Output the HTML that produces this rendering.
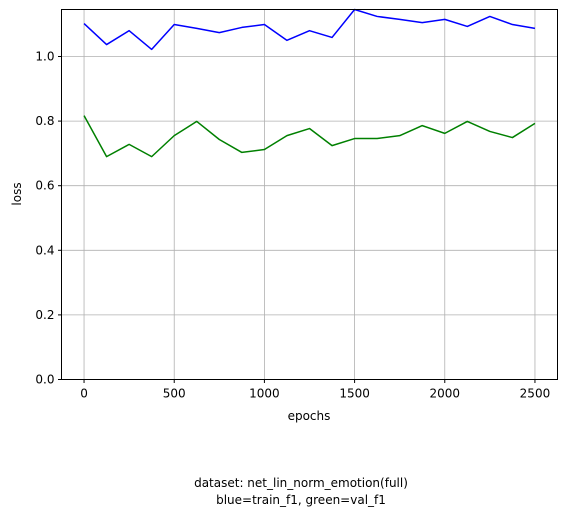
<!DOCTYPE html>
<html><head><meta charset="utf-8"><style>
body{margin:0;background:#fff;}
svg{display:block;font-family:"DejaVu Sans","Liberation Sans",sans-serif;}
</style></head><body>
<svg id="chart" width="567" height="517" viewBox="0 0 567 517">
<g id="grid"></g>
<g id="series"></g>
<rect x="61.5" y="9.5" width="496" height="370" fill="none" stroke="#000" stroke-width="1"/>
<g id="ticks"></g>
<text x="309" y="420" font-size="12" text-anchor="middle">epochs</text>
<text transform="translate(21,194) rotate(-90)" font-size="12" text-anchor="middle">loss</text>
<text x="301" y="487" font-size="12" text-anchor="middle">dataset: net_lin_norm_emotion(full)</text>
<text x="301" y="504" font-size="12" text-anchor="middle">blue=train_f1, green=val_f1</text>
</svg>
<script>
const epochs=[0,125,250,375,500,625,750,875,1000,1125,1250,1375,1500,1625,1750,1875,2000,2125,2250,2375,2500];
const trainF1=[1.102,1.037,1.080,1.022,1.099,1.087,1.074,1.090,1.099,1.050,1.080,1.059,1.150,1.124,1.115,1.105,1.115,1.093,1.124,1.099,1.087];
const valF1=[0.817,0.690,0.728,0.690,0.755,0.799,0.743,0.703,0.712,0.755,0.777,0.724,0.746,0.746,0.755,0.786,0.762,0.799,0.768,0.749,0.793];
const xTicks=[0,500,1000,1500,2000,2500];
const yTicks=[0.0,0.2,0.4,0.6,0.8,1.0];
const NS="http://www.w3.org/2000/svg";
const L=61.5,R=557.5,T=9.5,B=379.5;
const xMin=-125,xMax=2625,yMin=0,yMax=1.1455;
function sx(v){return L+(v-xMin)/(xMax-xMin)*(R-L);}
function sy(v){return B-(v-yMin)/(yMax-yMin)*(B-T);}
function mk(tag,attrs,parent){const e=document.createElementNS(NS,tag);for(const k in attrs)e.setAttribute(k,attrs[k]);parent.appendChild(e);return e;}
const grid=document.getElementById('grid'),ticks=document.getElementById('ticks'),series=document.getElementById('series');
xTicks.forEach(t=>{const x=sx(t);
 const g=mk('line',{x1:x,x2:x,y1:T,y2:B,stroke:'#b0b0b0','stroke-width':0.8},grid);
 
 
 const tk=mk('line',{x1:x,x2:x,y1:B,y2:B+3.5,stroke:'#000'},ticks);
 
 
 const tx=mk('text',{x:x,y:B+18,'font-size':12,'text-anchor':'middle'},ticks);tx.textContent=t;
 
 
});
yTicks.forEach(t=>{const y=sy(t);
 const g=mk('line',{x1:L,x2:R,y1:y,y2:y,stroke:'#b0b0b0','stroke-width':0.8},grid);
 
 
 const tk=mk('line',{x1:L-3.5,x2:L,y1:y,y2:y,stroke:'#000'},ticks);
 
 
 const tx=mk('text',{x:L-7,y:y+4,'font-size':12,'text-anchor':'end'},ticks);tx.textContent=t.toFixed(1);
 
 
});
function line(vals,color,name){
 const d=vals.map((v,i)=>(i?'L':'M')+sx(epochs[i]).toFixed(2)+','+sy(Math.min(v,yMax)).toFixed(2)).join('');
 const p=mk('path',{d:d,fill:'none',stroke:color,'stroke-width':1.5,'stroke-linejoin':'round'},series);
 
 
}
line(trainF1,'#0000ff','train-f1-line');
line(valF1,'#008000','val-f1-line');
</script>
</body></html>
